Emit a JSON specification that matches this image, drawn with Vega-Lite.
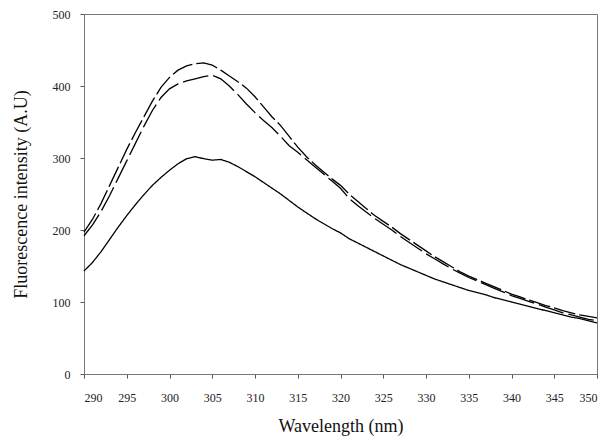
{
  "$schema": "https://vega.github.io/schema/vega-lite/v6.json",
  "autosize": {"type": "none"},
  "width": 513,
  "height": 360,
  "padding": {"left": 84, "top": 14, "right": 18, "bottom": 71},
  "background": "white",
  "config": {
    "view": {"stroke": "#777", "strokeWidth": 1},
    "font": "Liberation Serif",
    "axis": {
      "grid": false,
      "domainColor": "#777",
      "tickColor": "#555",
      "tickSize": 4,
      "labelFont": "Liberation Serif",
      "labelFontSize": 12,
      "labelColor": "#222",
      "titleFont": "Liberation Serif",
      "titleFontSize": 18,
      "titleFontWeight": "normal",
      "titleColor": "#111"
    }
  },
  "data": {"values": [
    {"wl":290,"s":"A","v":197},{"wl":291,"s":"A","v":215},{"wl":292,"s":"A","v":237},{"wl":293,"s":"A","v":262},{"wl":294,"s":"A","v":287},{"wl":295,"s":"A","v":312},{"wl":296,"s":"A","v":335},{"wl":297,"s":"A","v":357},{"wl":298,"s":"A","v":379},{"wl":299,"s":"A","v":398},{"wl":300,"s":"A","v":412},{"wl":301,"s":"A","v":422},{"wl":302,"s":"A","v":428},{"wl":303,"s":"A","v":431},{"wl":304,"s":"A","v":432},{"wl":305,"s":"A","v":429},{"wl":306,"s":"A","v":422},{"wl":307,"s":"A","v":414},{"wl":308,"s":"A","v":406},{"wl":309,"s":"A","v":397},{"wl":310,"s":"A","v":385},{"wl":311,"s":"A","v":371},{"wl":312,"s":"A","v":357},{"wl":313,"s":"A","v":345},{"wl":314,"s":"A","v":330},{"wl":315,"s":"A","v":315},{"wl":316,"s":"A","v":302},{"wl":317,"s":"A","v":291},{"wl":318,"s":"A","v":281},{"wl":319,"s":"A","v":271},{"wl":320,"s":"A","v":262},{"wl":321,"s":"A","v":250},{"wl":322,"s":"A","v":240},{"wl":323,"s":"A","v":230},{"wl":324,"s":"A","v":220},{"wl":325,"s":"A","v":212},{"wl":326,"s":"A","v":204},{"wl":327,"s":"A","v":195},{"wl":328,"s":"A","v":187},{"wl":329,"s":"A","v":179},{"wl":330,"s":"A","v":171},{"wl":331,"s":"A","v":163},{"wl":332,"s":"A","v":156},{"wl":333,"s":"A","v":149},{"wl":334,"s":"A","v":142},{"wl":335,"s":"A","v":136},{"wl":336,"s":"A","v":131},{"wl":337,"s":"A","v":126},{"wl":338,"s":"A","v":121},{"wl":339,"s":"A","v":116},{"wl":340,"s":"A","v":111},{"wl":341,"s":"A","v":107},{"wl":342,"s":"A","v":103},{"wl":343,"s":"A","v":99},{"wl":344,"s":"A","v":95},{"wl":345,"s":"A","v":92},{"wl":346,"s":"A","v":88},{"wl":347,"s":"A","v":85},{"wl":348,"s":"A","v":82},{"wl":349,"s":"A","v":80},{"wl":350,"s":"A","v":78},
    {"wl":290,"s":"B","v":192},{"wl":291,"s":"B","v":207},{"wl":292,"s":"B","v":226},{"wl":293,"s":"B","v":248},{"wl":294,"s":"B","v":272},{"wl":295,"s":"B","v":296},{"wl":296,"s":"B","v":320},{"wl":297,"s":"B","v":344},{"wl":298,"s":"B","v":366},{"wl":299,"s":"B","v":384},{"wl":300,"s":"B","v":396},{"wl":301,"s":"B","v":403},{"wl":302,"s":"B","v":407},{"wl":303,"s":"B","v":410},{"wl":304,"s":"B","v":413},{"wl":305,"s":"B","v":415},{"wl":306,"s":"B","v":410},{"wl":307,"s":"B","v":400},{"wl":308,"s":"B","v":388},{"wl":309,"s":"B","v":375},{"wl":310,"s":"B","v":363},{"wl":311,"s":"B","v":352},{"wl":312,"s":"B","v":342},{"wl":313,"s":"B","v":330},{"wl":314,"s":"B","v":317},{"wl":315,"s":"B","v":308},{"wl":316,"s":"B","v":298},{"wl":317,"s":"B","v":288},{"wl":318,"s":"B","v":278},{"wl":319,"s":"B","v":268},{"wl":320,"s":"B","v":258},{"wl":321,"s":"B","v":244},{"wl":322,"s":"B","v":234},{"wl":323,"s":"B","v":225},{"wl":324,"s":"B","v":216},{"wl":325,"s":"B","v":208},{"wl":326,"s":"B","v":200},{"wl":327,"s":"B","v":191},{"wl":328,"s":"B","v":183},{"wl":329,"s":"B","v":175},{"wl":330,"s":"B","v":167},{"wl":331,"s":"B","v":160},{"wl":332,"s":"B","v":153},{"wl":333,"s":"B","v":146},{"wl":334,"s":"B","v":140},{"wl":335,"s":"B","v":134},{"wl":336,"s":"B","v":129},{"wl":337,"s":"B","v":124},{"wl":338,"s":"B","v":119},{"wl":339,"s":"B","v":114},{"wl":340,"s":"B","v":109},{"wl":341,"s":"B","v":105},{"wl":342,"s":"B","v":101},{"wl":343,"s":"B","v":97},{"wl":344,"s":"B","v":93},{"wl":345,"s":"B","v":89},{"wl":346,"s":"B","v":85},{"wl":347,"s":"B","v":82},{"wl":348,"s":"B","v":79},{"wl":349,"s":"B","v":76},{"wl":350,"s":"B","v":74},
    {"wl":290,"s":"C","v":143},{"wl":291,"s":"C","v":155},{"wl":292,"s":"C","v":170},{"wl":293,"s":"C","v":187},{"wl":294,"s":"C","v":204},{"wl":295,"s":"C","v":220},{"wl":296,"s":"C","v":235},{"wl":297,"s":"C","v":249},{"wl":298,"s":"C","v":262},{"wl":299,"s":"C","v":273},{"wl":300,"s":"C","v":283},{"wl":301,"s":"C","v":292},{"wl":302,"s":"C","v":299},{"wl":303,"s":"C","v":302},{"wl":304,"s":"C","v":299},{"wl":305,"s":"C","v":297},{"wl":306,"s":"C","v":298},{"wl":307,"s":"C","v":294},{"wl":308,"s":"C","v":288},{"wl":309,"s":"C","v":281},{"wl":310,"s":"C","v":274},{"wl":311,"s":"C","v":266},{"wl":312,"s":"C","v":258},{"wl":313,"s":"C","v":250},{"wl":314,"s":"C","v":241},{"wl":315,"s":"C","v":232},{"wl":316,"s":"C","v":224},{"wl":317,"s":"C","v":216},{"wl":318,"s":"C","v":209},{"wl":319,"s":"C","v":202},{"wl":320,"s":"C","v":196},{"wl":321,"s":"C","v":188},{"wl":322,"s":"C","v":182},{"wl":323,"s":"C","v":176},{"wl":324,"s":"C","v":170},{"wl":325,"s":"C","v":164},{"wl":326,"s":"C","v":158},{"wl":327,"s":"C","v":152},{"wl":328,"s":"C","v":147},{"wl":329,"s":"C","v":142},{"wl":330,"s":"C","v":137},{"wl":331,"s":"C","v":132},{"wl":332,"s":"C","v":128},{"wl":333,"s":"C","v":124},{"wl":334,"s":"C","v":120},{"wl":335,"s":"C","v":116},{"wl":336,"s":"C","v":113},{"wl":337,"s":"C","v":110},{"wl":338,"s":"C","v":106},{"wl":339,"s":"C","v":103},{"wl":340,"s":"C","v":100},{"wl":341,"s":"C","v":97},{"wl":342,"s":"C","v":94},{"wl":343,"s":"C","v":91},{"wl":344,"s":"C","v":88},{"wl":345,"s":"C","v":85},{"wl":346,"s":"C","v":82},{"wl":347,"s":"C","v":79},{"wl":348,"s":"C","v":77},{"wl":349,"s":"C","v":74},{"wl":350,"s":"C","v":71}
  ]},
  "mark": {"type": "line", "color": "black", "strokeWidth": 1.3},
  "encoding": {
    "x": {
      "field": "wl", "type": "quantitative",
      "scale": {"domain": [290, 350], "nice": false, "zero": false},
      "axis": {"title": "Wavelength (nm)", "values": [290,295,300,305,310,315,320,325,330,335,340,345,350], "labelPadding": 14, "titlePadding": 14}
    },
    "y": {
      "field": "v", "type": "quantitative",
      "scale": {"domain": [0, 500], "nice": false},
      "axis": {"title": "Fluorescence intensity (A.U)", "values": [0,100,200,300,400,500], "labelPadding": 10, "titlePadding": 22}
    },
    "detail": {"field": "s", "type": "nominal"},
    "strokeDash": {
      "field": "s", "type": "nominal",
      "scale": {"domain": ["A", "B", "C"], "range": [[22, 4], [26, 5], [1, 0]]},
      "legend": null
    }
  }
}
